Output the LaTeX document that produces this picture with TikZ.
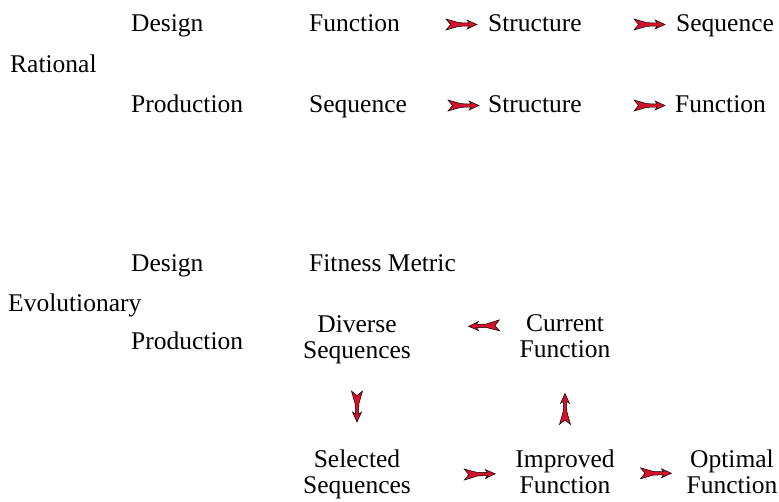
\documentclass[tikz,border=0pt]{standalone}
\usepackage{fontspec}
\setmainfont{Liberation Serif}
\usetikzlibrary{decorations.markings}
\definecolor{dartred}{RGB}{212,18,42}
\tikzset{
  every node/.style={font=\fontsize{25.5}{26}\selectfont, inner sep=0pt},
  lbl/.style={anchor=base west, text height=18pt, text depth=5pt},
  blk/.style={align=center, anchor=base},
  dart/.style={decoration={markings, mark=at position #1 with {
      \filldraw[fill=dartred, draw=black, line width=0.5pt]
        (0,0) -- (-10,4.5) -- (-8,1.6) -- (-18,1.8) -- (-31,5.5) -- (-26.5,0)
        -- (-31,-5.5) -- (-18,-1.8) -- (-8,-1.6) -- (-10,-4.5) -- cycle;}},
    postaction={decorate}}
}
\begin{document}
\begin{tikzpicture}[x=1pt, y=-1pt]
	\useasboundingbox (0,0) rectangle (779,501);
			\node[lbl] (R) at (10,72) {Rational};
				\node[lbl] (RD) at (131,31) {Design};
				\node[lbl] (RP) at (131,112) {Production};
			\node[lbl] (F1) at (309,31) {Function};
			\node[lbl] (S1) at (488,31) {Structure};
			\node[lbl] (Q1) at (676,31) {Sequence};
			\node[lbl] (Q2) at (309,112) {Sequence};
			\node[lbl] (S2) at (488,112) {Structure};
			\node[lbl] (F2) at (675,112) {Function};
			\path[dart=-11pt] (F1) -- (S1);
			\path[dart=-11pt] (S1) -- (Q1);
			\path[dart=-9pt] (Q2) -- (S2);
			\path[dart=-10pt] (S2) -- (F2);

			\node[lbl] (E) at (8,311) {Evolutionary};
				\node[lbl] (ED) at (131,271) {Design};
				\node[lbl] (EP) at (131,349) {Production};
			\node[lbl] (M) at (309,271) {Fitness Metric};
			\node[blk] (DS) at (357,358) {Diverse\\Sequences};
			\node[blk] (CF) at (565,357) {Current\\Function};
			\node[blk] (SS) at (357,493) {Selected\\Sequences};
			\node[blk] (IF) at (565,493) {Improved\\Function};
			\node[blk] (OF) at (732,493) {Optimal\\Function};
			\path[dart=51pt] ([yshift=11pt]CF.west) -- ([yshift=11pt]DS.east);
			\path[dart=-27pt] (DS) -- (SS);
			\path[dart=-36pt] (IF) -- (CF);
			\path[dart=-20pt] ([yshift=-2pt]SS.east) -- ([yshift=-2pt]IF.west);
			\path[dart=-15pt] ([yshift=-2pt]IF.east) -- ([yshift=-2pt]OF.west);
\end{tikzpicture}
\end{document}
